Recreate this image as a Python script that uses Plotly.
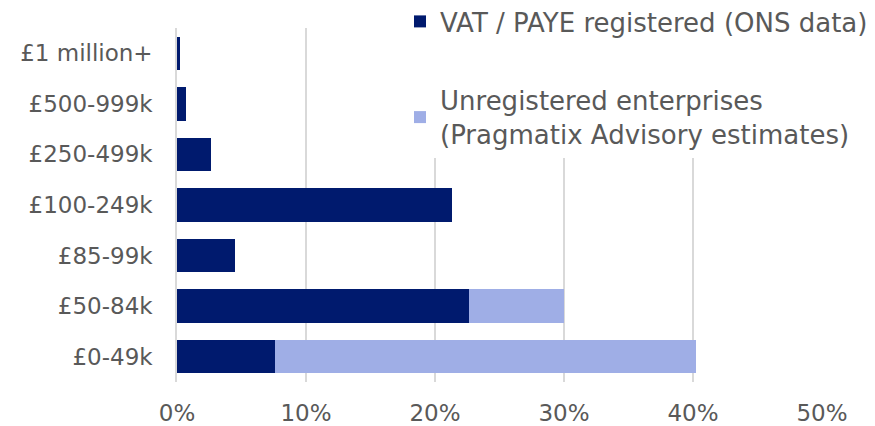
import plotly.graph_objects as go

categories = ["£0-49k", "£50-84k", "£85-99k", "£100-249k", "£250-499k", "£500-999k", "£1 million+"]
registered = [0.076, 0.226, 0.045, 0.213, 0.026, 0.007, 0.0027]
unregistered = [0.326, 0.074, 0, 0, 0, 0, 0]
x_ticks = [0, 0.1, 0.2, 0.3, 0.4, 0.5]
x_tick_labels = ["0%", "10%", "20%", "30%", "40%", "50%"]

FONT = "DejaVu Sans"
GREY = "#595959"

fig = go.Figure()
fig.add_trace(go.Bar(
    y=categories, x=registered, orientation="h",
    name="VAT / PAYE registered (ONS data)",
    marker=dict(color="#001A6E", line=dict(width=0)),
    legendgroup="a",
))
fig.add_trace(go.Bar(
    y=categories, x=unregistered, orientation="h",
    name="Unregistered enterprises<br>(Pragmatix Advisory estimates)",
    marker=dict(color="#9FAEE6", line=dict(width=0)),
    legendgroup="b",
))

fig.update_layout(
    width=875, height=426,
    margin=dict(l=177, r=53, t=28, b=44, autoexpand=False),
    barmode="stack",
    bargap=0.34,
    plot_bgcolor="white",
    paper_bgcolor="white",
    font=dict(family=FONT, color=GREY, size=23),
    showlegend=True,
    legend=dict(
        x=(400 - 177) / 645, y=1 + 30 / 354, xanchor="left", yanchor="top",
        bgcolor="white",
        traceorder="grouped",
        tracegroupgap=42,
        font=dict(family=FONT, color=GREY, size=26),
    ),
    xaxis=dict(
        range=[0, 0.5],
        tickvals=x_ticks, ticktext=x_tick_labels,
        showgrid=True, gridcolor="#D9D9D9", gridwidth=1.5,
        zeroline=False, showline=False,
        ticks="", ticklabelstandoff=15, automargin=False,
        tickfont=dict(family=FONT, color=GREY, size=23),
    ),
    yaxis=dict(
        showgrid=False, zeroline=False,
        showline=True, linecolor="#D9D9D9", linewidth=1.5,
        ticks="", ticklabelstandoff=18, automargin=False,
        tickfont=dict(family=FONT, color=GREY, size=23),
    ),
)

fig.write_html(
    "out.html",
    config={"displayModeBar": False},
    post_script="document.body.style.margin='0';document.body.style.padding='0';",
)
